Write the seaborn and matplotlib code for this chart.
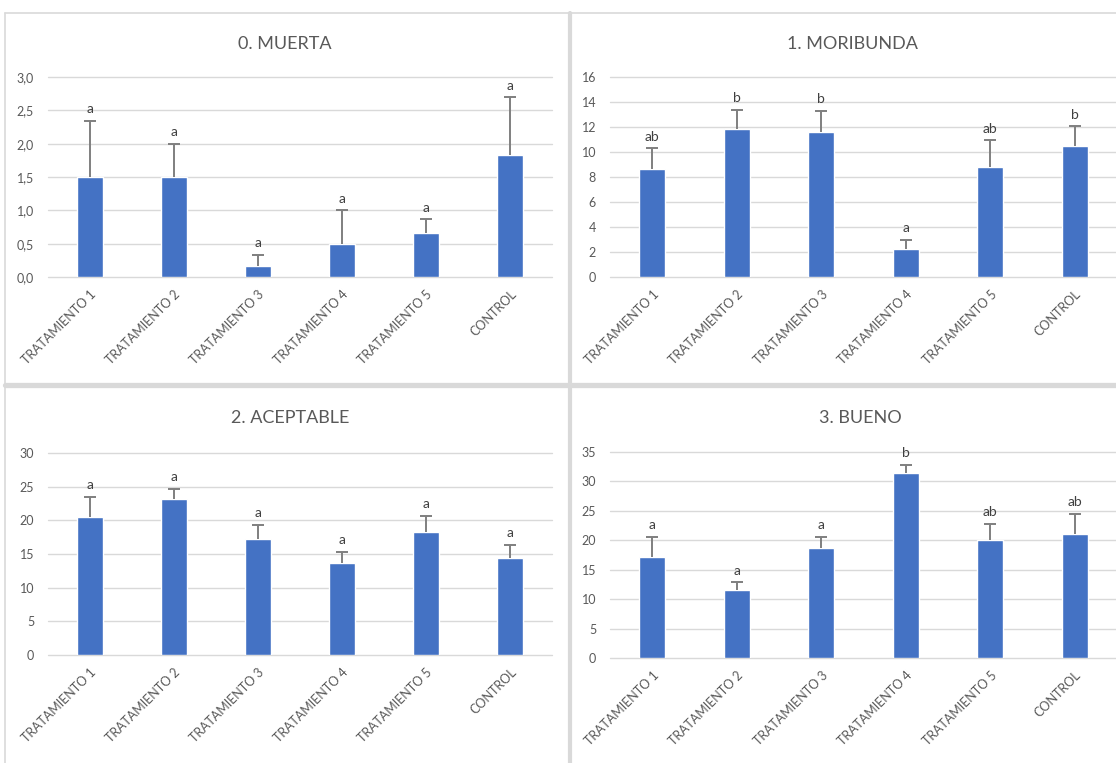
import matplotlib
matplotlib.use("Agg")
import matplotlib.pyplot as plt
from matplotlib.lines import Line2D
import seaborn as sns
import pandas as pd

# Treatments on the x axis
categories = ["TRATAMIENTO 1", "TRATAMIENTO 2", "TRATAMIENTO 3",
              "TRATAMIENTO 4", "TRATAMIENTO 5", "CONTROL"]

# Mean value and upper error for each condition class
muerta_mean = [1.5, 1.5, 0.167, 0.5, 0.667, 1.833]
muerta_err = [0.84, 0.5, 0.167, 0.5, 0.2, 0.86]
muerta_groups = ["a", "a", "a", "a", "a", "a"]

moribunda_mean = [8.6, 11.8, 11.6, 2.27, 8.8, 10.45]
moribunda_err = [1.7, 1.6, 1.7, 0.7, 2.13, 1.6]
moribunda_groups = ["ab", "b", "b", "a", "ab", "b"]

aceptable_mean = [20.5, 23.2, 17.3, 13.6, 18.2, 14.4]
aceptable_err = [3.0, 1.5, 2.0, 1.7, 2.5, 2.0]
aceptable_groups = ["a", "a", "a", "a", "a", "a"]

bueno_mean = [17.1, 11.5, 18.7, 31.4, 20.0, 21.1]
bueno_err = [3.5, 1.4, 1.9, 1.4, 2.8, 3.4]
bueno_groups = ["a", "a", "a", "b", "ab", "ab"]

titles = ["0. MUERTA", "1. MORIBUNDA", "2. ACEPTABLE", "3. BUENO"]
y_limits = [3.0, 16, 30, 35]
y_steps = [0.5, 2, 5, 5]

BAR = "#4472C4"
GRID = "#D9D9D9"
TXT = "#595959"
ERR = "#7F7F7F"

W, H = 1116, 763
sns.set_theme(style="white")
plt.rcParams["font.family"] = ["Lato", "DejaVu Sans"]

fig = plt.figure(figsize=(W / 100, H / 100), dpi=100)
fig.patch.set_facecolor("white")


def px_axes(x0, x1, ytop, ybot):
    return fig.add_axes([x0 / W, 1 - ybot / H, (x1 - x0) / W, (ybot - ytop) / H])


panels = [
    (muerta_mean, muerta_err, muerta_groups, px_axes(48, 552, 77, 277)),
    (moribunda_mean, moribunda_err, moribunda_groups, px_axes(610, 1117, 77, 277)),
    (aceptable_mean, aceptable_err, aceptable_groups, px_axes(48, 552, 453, 655)),
    (bueno_mean, bueno_err, bueno_groups, px_axes(610, 1117, 452, 658)),
]

for i, (mean, err, groups, ax) in enumerate(panels):
    df = pd.DataFrame({"tratamiento": categories, "valor": mean})
    sns.barplot(data=df, x="tratamiento", y="valor", ax=ax, color=BAR,
                saturation=1, width=0.31, errorbar=None, zorder=3)
    xs = range(len(categories))
    tops = [m + e for m, e in zip(mean, err)]
    ax.vlines(xs, mean, tops, color=ERR, linewidth=1.4, zorder=4)
    ax.scatter(xs, tops, marker="_", s=70, color=ERR, linewidths=1.4, zorder=4)
    for x, t, g in zip(xs, tops, groups):
        ax.annotate(g, (x, t), xytext=(0, 4), textcoords="offset points",
                    ha="center", va="bottom", fontsize=10, color="#404040")

    top = y_limits[i]
    step = y_steps[i]
    n = int(round(top / step))
    ticks = [k * step for k in range(n + 1)]
    ax.set_ylim(0, top)
    ax.set_xlim(-0.5, len(categories) - 0.5)
    ax.set_yticks(ticks)
    if i == 0:
        ax.set_yticklabels([f"{t:.1f}".replace(".", ",") for t in ticks])
    else:
        ax.set_yticklabels([f"{t:g}" for t in ticks])
    ax.yaxis.grid(True, color=GRID, linewidth=1.0, zorder=0)
    for gl in ax.get_ygridlines():
        gl.set_clip_on(False)
    ax.set_axisbelow(True)
    for s in ax.spines.values():
        s.set_visible(False)
    ax.set_xlabel("")
    ax.set_ylabel("")
    ax.tick_params(axis="y", length=0, pad=10, labelsize=9, labelcolor=TXT)
    ax.tick_params(axis="x", length=0, pad=8, labelsize=9, labelcolor=TXT)
    for lab in ax.get_xticklabels():
        lab.set_rotation(45)
        lab.set_ha("right")
        lab.set_va("top")
        lab.set_rotation_mode("anchor")
    ax.set_facecolor("none")

# Panel titles
title_pos = [(285, 44), (852, 44), (290, 418), (860, 418)]
for t, (tx, ty) in zip(titles, title_pos):
    fig.text(tx / W, 1 - ty / H, t, ha="center", va="center",
             fontsize=13, color=TXT)

# Panel frames
def hline(y, x0, x1, lw):
    fig.add_artist(Line2D([x0 / W, x1 / W], [1 - y / H, 1 - y / H],
                          color=GRID, linewidth=lw, transform=fig.transFigure))


def vline(x, y0, y1, lw):
    fig.add_artist(Line2D([x / W, x / W], [1 - y0 / H, 1 - y1 / H],
                          color=GRID, linewidth=lw, transform=fig.transFigure))


hline(13, 5, W, 1.2)
hline(385, 5, W, 3.8)
vline(5, 13, H, 1.2)
vline(570, 13, H, 3.0)

fig.savefig("out.png", dpi=100, facecolor="white")
